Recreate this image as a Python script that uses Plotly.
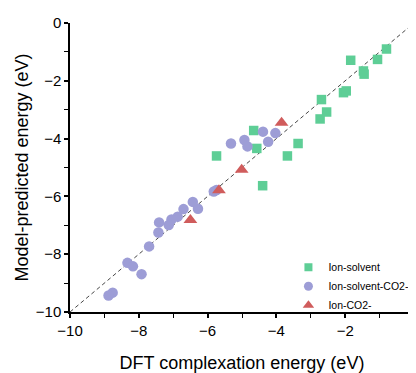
import plotly.graph_objects as go

# Ion-solvent (green squares)
ion_solvent_x = [-0.80, -1.06, -1.84, -1.47, -1.45, -2.05, -1.97, -2.69, -2.54, -2.73, -3.37, -3.68, -4.66, -4.57, -5.74, -4.40]
ion_solvent_y = [-0.90, -1.26, -1.29, -1.66, -1.77, -2.41, -2.35, -2.65, -3.08, -3.32, -4.17, -4.60, -3.72, -4.34, -4.60, -5.63]

# Ion-solvent-CO2- (purple circles)
ion_solvent_co2_x = [-4.39, -4.03, -4.93, -4.84, -5.32, -4.24, -5.82, -5.74, -6.43, -6.28, -6.70, -6.87, -7.05, -7.13, -7.41, -7.43, -7.70, -8.33, -8.17, -7.92, -8.76, -8.88]
ion_solvent_co2_y = [-3.76, -3.81, -4.05, -4.27, -4.17, -4.11, -5.83, -5.78, -6.19, -6.43, -6.44, -6.70, -6.80, -6.99, -6.90, -7.25, -7.73, -8.30, -8.42, -8.69, -9.33, -9.43]

# Ion-CO2- (red triangles)
ion_co2_x = [-3.85, -5.01, -6.50, -5.67]
ion_co2_y = [-3.45, -5.08, -6.82, -5.79]

# parity line
parity = [-10, 0]

x_ticks = [-10, -8, -6, -4, -2, 0]
y_ticks = [0, -2, -4, -6, -8, -10]

GREEN = "rgb(94,206,150)"
PURPLE = "rgb(157,157,214)"
RED = "rgb(208,92,92)"
FONT = "Liberation Sans, Arial, sans-serif"

fig = go.Figure()
fig.add_trace(go.Scatter(x=parity, y=parity, mode="lines", showlegend=False,
                         line=dict(color="rgb(70,70,70)", width=1, dash="4px,3px")))
fig.add_trace(go.Scatter(x=ion_solvent_x, y=ion_solvent_y, mode="markers", showlegend=False,
                         marker=dict(symbol="square", size=9.5, color=GREEN)))
fig.add_trace(go.Scatter(x=ion_solvent_co2_x, y=ion_solvent_co2_y, mode="markers", showlegend=False,
                         marker=dict(symbol="circle", size=10.5, color=PURPLE)))
fig.add_trace(go.Scatter(x=ion_co2_x, y=ion_co2_y, mode="markers", showlegend=False,
                         marker=dict(symbol="triangle-up", size=12, color=RED)))
# legend entries
for name, sym, col, sz in [("Ion-solvent", "square", GREEN, 8),
                           ("Ion-solvent-CO2-", "circle", PURPLE, 9),
                           ("Ion-CO2-", "triangle-up", RED, 10)]:
    fig.add_trace(go.Scatter(x=[None], y=[None], mode="markers", name=name,
                             marker=dict(symbol=sym, size=sz, color=col)))

fig.update_layout(
    width=416, height=373,
    margin=dict(l=62, r=6, t=12, b=69),
    paper_bgcolor="white", plot_bgcolor="white",
    font=dict(family=FONT, color="black"),
    legend=dict(x=0.635, y=0.205, xanchor="left", yanchor="top",
                font=dict(size=10.5, family=FONT), bgcolor="rgba(0,0,0,0)",
                tracegroupgap=0),
)
fig.update_xaxes(range=[-10, 0], tickvals=x_ticks,
                 showline=True, linecolor="black", linewidth=1.5, ticks="outside",
                 ticklen=4, tickwidth=1.5, tickcolor="black", showgrid=False, zeroline=False,
                 tickfont=dict(size=15), minor=dict(dtick=1, tick0=-10, ticks="outside", ticklen=4, tickcolor="black", tickwidth=1.2),
                 title=dict(text="DFT complexation energy (eV)", font=dict(size=18), standoff=19))
fig.update_yaxes(range=[-10, 0], tickvals=y_ticks,
                 showline=True, linecolor="black", linewidth=1.5, ticks="outside",
                 ticklen=4, tickwidth=1.5, tickcolor="black", showgrid=False, zeroline=False,
                 tickfont=dict(size=15), minor=dict(dtick=1, tick0=-10, ticks="outside", ticklen=4, tickcolor="black", tickwidth=1.2),
                 title=dict(text="Model-predicted energy (eV)", font=dict(size=18), standoff=2))

fig.write_html("out.html")
